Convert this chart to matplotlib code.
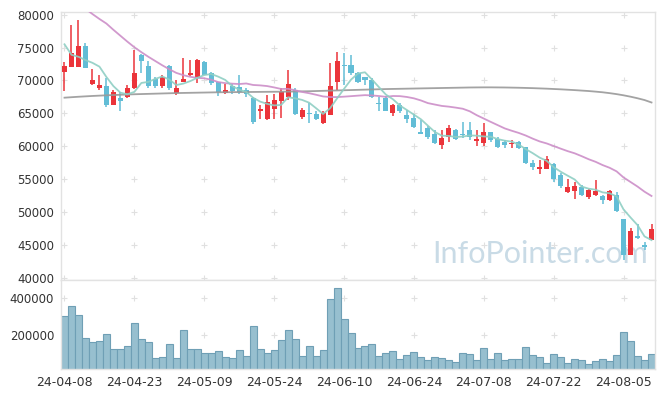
import numpy as np
import matplotlib
matplotlib.use('Agg')
import matplotlib.pyplot as plt

# daily candles, 2024-04-08 .. 2024-08-09 (85 trading days)
open_ = [71300, 72100, 72100, 75200, 69500, 68900, 69200, 66300, 67300, 67500,
         68800, 73900, 72200, 70200, 69200, 72200, 68100, 69800, 70800, 70400,
         72800, 71100, 69700, 68100, 69200, 69000, 68500, 67400, 65300, 64100,
         65600, 66900, 67500, 68600, 64500, 65100, 64900, 63500, 64800, 69700,
         72400, 72400, 71200, 70500, 70100, 66600, 67400, 65000, 66200, 64700,
         64300, 62200, 62800, 61900, 60200, 61400, 62500, 61900, 62500, 60800,
         60500, 62100, 61100, 60600, 60300, 60700, 59900, 57500, 56600, 56600,
         57300, 55600, 53100, 53200, 53800, 52200, 52600, 52500, 51800, 52600,
         48900, 43500, 46300, 45000, 45800]
close = [72200, 74100, 75200, 71900, 70000, 69300, 66200, 68300, 66900, 68800,
         71100, 73000, 69100, 69200, 70600, 68800, 68800, 70200, 71100, 73100,
         70900, 69600, 68200, 68600, 68400, 68200, 67900, 63700, 65700, 66700,
         67000, 68300, 69500, 64900, 65500, 64900, 64100, 65100, 69200, 73000,
         72200, 71100, 69800, 70100, 67500, 66400, 65400, 66300, 65300, 64100,
         62900, 61900, 61400, 60500, 61300, 62700, 61100, 61700, 61400, 61100,
         62100, 60900, 59900, 60200, 60400, 59800, 57500, 56800, 56800, 58000,
         55000, 54000, 53800, 53900, 52600, 53400, 53200, 51800, 53200, 50200,
         43500, 47100, 46000, 44600, 47400]
high = [72800, 78400, 79200, 75700, 71800, 70900, 70400, 68500, 68300, 69300,
        74600, 74000, 73000, 70600, 70800, 72300, 70000, 73400, 73100, 73200,
        72900, 71300, 69800, 69500, 69400, 70800, 68800, 67500, 66200, 67800,
        67900, 68800, 71600, 68800, 65800, 66500, 65300, 65300, 72700, 74400,
        74200, 73900, 71300, 70500, 70300, 67500, 67600, 66400, 66500, 65500,
        64900, 64000, 63000, 62500, 62400, 63200, 62600, 63700, 63700, 62400,
        63500, 62200, 61400, 60900, 60900, 60800, 59900, 57900, 57900, 58500,
        57400, 55900, 55000, 54500, 54100, 53500, 54900, 52600, 53300, 53100,
        49000, 47500, 48100, 45400, 48200]
low = [68400, 72000, 72000, 71900, 69300, 68600, 66000, 66200, 65400, 67300,
       68700, 71100, 68900, 68800, 68900, 68500, 67800, 69700, 70700, 69600,
       70800, 69300, 67700, 67900, 68000, 68000, 67500, 63300, 64200, 64000,
       64100, 64300, 67000, 64700, 64200, 63500, 64000, 63400, 64700, 68500,
       69300, 70900, 69600, 69300, 67300, 65300, 65300, 64600, 65000, 63500,
       62700, 61800, 61100, 60400, 59500, 60700, 61000, 61200, 60900, 60100,
       60100, 60700, 59800, 59800, 59800, 59600, 57300, 56400, 55700, 56500,
       54600, 53700, 52900, 52000, 52400, 52000, 52500, 51200, 51600, 50000,
       42700, 43400, 45900, 44200, 45700]
volume = [303000, 356000, 308000, 184000, 164000, 170000, 205000, 126000, 126000, 142000,
          264000, 179000, 163000, 78000, 83000, 152000, 78000, 227000, 126000, 126000,
          104000, 104000, 115000, 83000, 78000, 120000, 88000, 248000, 126000, 104000,
          120000, 173000, 227000, 179000, 88000, 142000, 88000, 120000, 392000, 450000,
          285000, 211000, 131000, 142000, 152000, 88000, 104000, 115000, 72000, 94000,
          110000, 83000, 67000, 83000, 78000, 67000, 56000, 104000, 99000, 67000,
          131000, 72000, 104000, 67000, 72000, 72000, 136000, 94000, 83000, 51000,
          99000, 83000, 51000, 72000, 67000, 46000, 62000, 72000, 62000, 94000,
          216000, 168000, 88000, 67000, 99000]

# moving averages as shown on the chart
ma5 = [75500, 73900, 73600, 73100, 72680, 72100, 70520, 69140, 68140, 67900,
       68260, 69620, 69780, 70240, 70600, 70140, 69300, 69520, 69900, 70400,
       70820, 70980, 70580, 70080, 69140, 68600, 68260, 67360, 66780, 66440,
       66200, 66280, 67440, 67280, 67040, 66620, 65780, 64900, 65760, 67260,
       68720, 70120, 71060, 71240, 70140, 68980, 67840, 67140, 66180, 65500,
       64800, 64100, 63120, 62160, 61600, 61560, 61400, 61460, 61640, 61600,
       61480, 61440, 61080, 60840, 60700, 60240, 59560, 58940, 58260, 57780,
       56820, 56120, 55520, 54940, 53860, 53540, 53380, 52980, 52840, 52360,
       50380, 49160, 48000, 46280, 45720]
ma20 = [83300, 82500, 81700, 80900, 80100, 79350, 78650, 77700, 76800, 75900,
        75050, 74300, 73600, 72950, 72300, 71700, 71150, 70800, 70550, 70395,
        70330, 70105, 69755, 69590, 69510, 69455, 69540, 69310, 69250, 69145,
        68940, 68705, 68725, 68510, 68255, 68060, 67825, 67570, 67475, 67470,
        67535, 67610, 67690, 67765, 67720, 67630, 67505, 67635, 67615, 67485,
        67280, 66960, 66555, 66335, 66125, 66015, 65865, 65695, 65305, 64710,
        64205, 63695, 63200, 62705, 62350, 62020, 61625, 61150, 60725, 60420,
        60025, 59630, 59250, 58920, 58485, 58020, 57625, 57130, 56720, 56175,
        55245, 54555, 53860, 53080, 52430]
ma120 = [67380, 67450, 67520, 67580, 67640, 67690, 67740, 67780, 67820, 67860,
         67900, 67930, 67960, 67990, 68020, 68050, 68080, 68100, 68120, 68140,
         68160, 68180, 68200, 68210, 68220, 68230, 68240, 68250, 68260, 68270,
         68280, 68290, 68300, 68320, 68340, 68360, 68390, 68420, 68450, 68480,
         68510, 68540, 68570, 68600, 68630, 68660, 68690, 68710, 68730, 68750,
         68770, 68790, 68810, 68830, 68850, 68870, 68890, 68910, 68930, 68940,
         68950, 68950, 68940, 68930, 68910, 68890, 68860, 68830, 68790, 68750,
         68700, 68650, 68590, 68530, 68460, 68390, 68300, 68200, 68070, 67920,
         67740, 67530, 67290, 67020, 66650]

tick_labels = ['24-04-08', '24-04-23', '24-05-09', '24-05-24', '24-06-10',
               '24-06-24', '24-07-08', '24-07-22', '24-08-05']

RED = '#eb343a'
BLUE = '#62bdd6'
FRAME = '#e2e2e2'
CROSS = '#e0e0e0'

o = np.array(open_)
c = np.array(close)
x = np.arange(len(o))
up = c >= o
cols = np.where(up, RED, BLUE)

fig = plt.figure(figsize=(6.65, 3.98), dpi=100)
ax = fig.add_axes([61 / 665, 1 - 280 / 398, 594 / 665, 268 / 398])
axv = fig.add_axes([61 / 665, 1 - 369 / 398, 594 / 665, 89 / 398])

# price panel
ax.text(0.988, 0.045, 'InfoPointer.com', transform=ax.transAxes, ha='right',
        va='bottom', fontsize=22, family='Lato', color='#c9dbe6', zorder=0)
ax.vlines(x, low, high, colors=cols, linewidth=1.1, zorder=2)
body = np.maximum(np.abs(c - o), 160)
ax.bar(x, body, bottom=np.minimum(o, c), width=0.72, color=cols,
       linewidth=0, zorder=3)
ax.plot(x, ma120, color='#999999', linewidth=1.3, alpha=0.9, zorder=4)
ax.plot(x, ma20, color='#cc8ec8', linewidth=1.3, alpha=0.9, zorder=4)
ax.plot(x, ma5, color='#8fcfc4', linewidth=1.3, alpha=0.9, zorder=4)

ticks_x = np.arange(0, len(o), 10)
price_ticks = np.arange(40000, 80001, 5000)
gx, gy = np.meshgrid(ticks_x, price_ticks)
ax.scatter(gx.ravel(), gy.ravel(), marker='+', s=20, color=CROSS,
           linewidths=0.8, zorder=1)
ax.set_xlim(-0.5, len(o) - 0.5)
ax.set_ylim(39650, 80410)
ax.set_yticks(price_ticks)
ax.set_yticklabels([str(v) for v in price_ticks])
ax.set_xticks([])

# volume panel
axv.bar(x, volume, width=1.0, color='#97bfcf', edgecolor='#6f9fb5',
        linewidth=0.8, zorder=2)
vol_ticks = [200000, 400000]
gx, gy = np.meshgrid(ticks_x, vol_ticks)
axv.scatter(gx.ravel(), gy.ravel(), marker='+', s=20, color=CROSS,
            linewidths=0.8, zorder=1)
axv.set_xlim(-0.5, len(o) - 0.5)
axv.set_ylim(20000, 494000)
axv.set_yticks(vol_ticks)
axv.set_yticklabels([str(v) for v in vol_ticks])
axv.set_xticks(ticks_x)
axv.set_xticklabels(tick_labels)

for a in (ax, axv):
    for s in a.spines.values():
        s.set_color(FRAME)
        s.set_linewidth(1.0)
    a.tick_params(length=0, colors='#333333')
    a.tick_params(axis='y', labelsize=8.5, pad=5)
    a.tick_params(axis='x', labelsize=9, pad=5)
    a.set_facecolor('white')

fig.savefig('out.png', dpi=100)
